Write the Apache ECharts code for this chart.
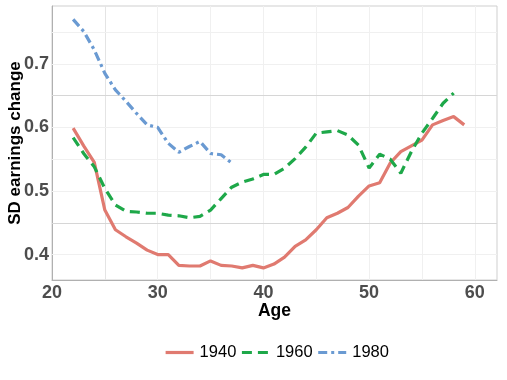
<!DOCTYPE html>
<html>
<head>
<meta charset="utf-8">
<script src="https://cdn.jsdelivr.net/npm/echarts@6/dist/echarts.min.js"></script>
<style>html,body{margin:0;padding:0;background:#fff;}#c{width:507px;height:380px;}</style>
</head>
<body>
<div id="c"></div>
<script>
const ages1940 = [22,23,24,25,26,27,28,29,30,31,32,33,34,35,36,37,38,39,40,41,42,43,44,45,46,47,48,49,50,51,52,53,54,55,56,57,58,59];
const sd1940 = [0.599,0.571,0.545,0.470,0.439,0.428,0.418,0.407,0.400,0.400,0.383,0.382,0.382,0.390,0.383,0.382,0.379,0.383,0.379,0.385,0.396,0.413,0.423,0.439,0.458,0.465,0.474,0.492,0.508,0.513,0.544,0.562,0.571,0.580,0.604,0.611,0.617,0.604];
const ages1960 = [22,23,24,25,26,27,28,29,30,31,32,33,34,35,36,37,38,39,40,41,42,43,44,45,46,47,48,49,50,51,52,53,54,55,56,57,58];
const sd1960 = [0.584,0.559,0.538,0.504,0.478,0.468,0.467,0.465,0.465,0.462,0.461,0.458,0.460,0.470,0.488,0.506,0.514,0.519,0.526,0.526,0.536,0.551,0.569,0.591,0.593,0.595,0.588,0.572,0.536,0.558,0.550,0.528,0.562,0.591,0.614,0.638,0.654];
const ages1980 = [22,23,24,25,26,27,28,29,30,31,32,33,34,35,36,37];
const sd1980 = [0.770,0.751,0.722,0.685,0.659,0.641,0.622,0.604,0.600,0.575,0.561,0.570,0.578,0.559,0.557,0.544];
const seriesNames = ['1940','1960','1980'];
const xTicks = [20,30,40,50,60];
const yTicks = [0.4,0.5,0.6,0.7];
const xGrid = [25,30,35,40,45,50,55,60];
const yGrid = [0.4,0.45,0.5,0.55,0.6,0.65,0.7,0.75];
const yGridStrong = [0.45,0.65];

const pair = (xs, ys) => xs.map((x, i) => [x, ys[i]]);

const gridLines = [];
xGrid.forEach(v => gridLines.push({xAxis: v, lineStyle: {color: v === 25 ? '#e4e4e4' : '#f0f0f0', width: 1, type: 'solid'}}));
yGrid.forEach(v => gridLines.push({yAxis: v, lineStyle: {color: yGridStrong.includes(v) ? '#d6d6d6' : '#f0f0f0', width: 1, type: 'solid'}}));

const FONT = 'Liberation Sans, Arial, sans-serif';
const chart = echarts.init(document.getElementById('c'), null, {renderer: 'canvas'});
chart.setOption({
  animation: false,
  backgroundColor: '#ffffff',
  grid: {left: 52, right: 10, top: 6, bottom: 100, containLabel: false, outerBoundsMode: 'none',
         show: true, borderColor: '#cfcfcf', borderWidth: 1, backgroundColor: '#ffffff'},
  legend: {
    data: seriesNames,
    top: 339, left: 159,
    itemWidth: 28, itemHeight: 14, itemGap: 4,
    textStyle: {fontFamily: FONT, fontSize: 16.5, color: '#000', padding: [0,0,0,1]},
    itemStyle: {opacity: 0},
    lineStyle: {width: 3.2}
  },
  xAxis: {
    type: 'value', min: 20, max: 62.1,
    name: 'Age', nameLocation: 'middle', nameGap: 22, nameMoveOverlap: false,
    nameTextStyle: {fontFamily: FONT, fontSize: 17.5, fontWeight: 'bold', color: '#000'},
    axisLine: {show: true, lineStyle: {color: '#b0b0b0', width: 1}},
    axisTick: {show: false},
    splitLine: {show: false},
    axisLabel: {customValues: xTicks, margin: 4, fontFamily: FONT, fontSize: 18, fontWeight: 'bold', color: '#4d4d4d'}
  },
  yAxis: {
    type: 'value', min: 0.36, max: 0.791,
    name: 'SD earnings change', nameLocation: 'middle', nameGap: 28, nameMoveOverlap: false,
    nameTextStyle: {fontFamily: FONT, fontSize: 17, fontWeight: 'bold', color: '#000'},
    axisLine: {show: true, lineStyle: {color: '#b0b0b0', width: 1}},
    axisTick: {show: false},
    splitLine: {show: false},
    axisLabel: {customValues: yTicks, margin: 3, fontFamily: FONT, fontSize: 18, fontWeight: 'bold', color: '#4d4d4d', formatter: v => v.toFixed(1)}
  },
  series: [
    {name: '1940', type: 'line', data: pair(ages1940, sd1940), showSymbol: false, symbol: 'none', z: 3,
     lineStyle: {color: '#E07A70', width: 3.2, type: 'solid'}, itemStyle: {color: '#E07A70'},
     markLine: {silent: true, symbol: ['none','none'], label: {show: false}, animation: false, z: 1, data: gridLines}},
    {name: '1960', type: 'line', data: pair(ages1960, sd1960), showSymbol: false, symbol: 'none', z: 4,
     lineStyle: {color: '#1EA849', width: 3.2, type: [10, 6]}, itemStyle: {color: '#1EA849'}},
    {name: '1980', type: 'line', data: pair(ages1980, sd1980), showSymbol: false, symbol: 'none', z: 5,
     lineStyle: {color: '#6A9AD2', width: 3.2, type: [9, 4, 3, 4]}, itemStyle: {color: '#6A9AD2'}}
  ]
});
</script>
</body>
</html>
